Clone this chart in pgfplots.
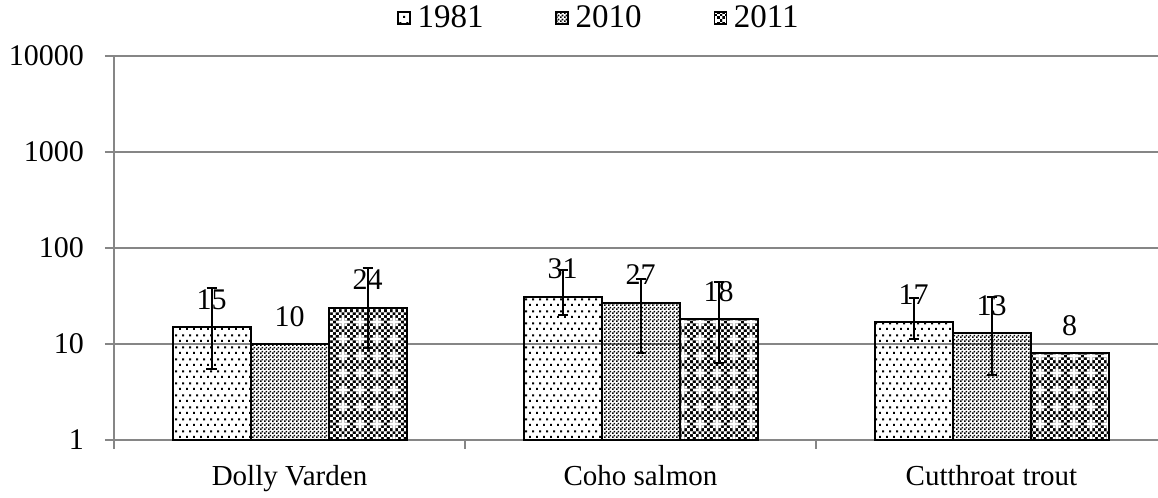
\documentclass[border=0pt]{standalone}
\usepackage{fontspec}
\setmainfont{Liberation Serif}
\usepackage{pgfplots}
\pgfplotsset{compat=1.18}
\usetikzlibrary{patterns.meta}

\tikzdeclarepattern{
  name=dotsA, type=uncolored,
  bounding box={(0,0) and (3.6bp,6bp)},
  tile size={(3.6bp,6bp)},
  code={\fill (0bp,0bp) rectangle (1.1bp,1.1bp); \fill (1.8bp,3bp) rectangle (2.9bp,4.1bp);}
}
\tikzdeclarepattern{
  name=fineCheck, type=uncolored,
  bounding box={(0,0) and (2bp,2bp)},
  tile size={(2bp,2bp)},
  code={\fill (0bp,0bp) rectangle (1bp,1bp); \fill (1bp,1bp) rectangle (2bp,2bp);}
}
\tikzdeclarepattern{
  name=checkPlus, type=colored,
  bounding box={(0,0) and (8.4bp,8.4bp)},
  tile size={(8.4bp,8.4bp)},
  code={
    \fill[black] (0bp,0bp) rectangle (8.4bp,8.4bp);
    \foreach \i in {0,...,5}{\foreach \j in {0,...,5}{%
      \pgfmathtruncatemacro\k{\i+\j}%
      \ifodd\k\relax\else\fill[white] (\i*1.4bp,\j*1.4bp) rectangle ++(1.4bp,1.4bp);\fi}}
    \fill[white] (1.4bp,2.8bp) rectangle (5.6bp,4.2bp);
    \fill[white] (2.8bp,1.4bp) rectangle (4.2bp,5.6bp);
  }
}

\definecolor{axgray}{HTML}{868686}

\pgfplotsset{
  mylegend/.style={legend image code/.code={\draw[##1, draw=black, line width=0.6bp] (0bp,-3bp) rectangle (6bp,3bp);}},
}

\begin{document}
\begin{tikzpicture}
\useasboundingbox (-57bp,-29bp) rectangle (522bp,220bp);
\begin{axis}[
  at={(0,0)}, anchor=south west,
  scale only axis, width=526.5bp, height=192bp,
  ymode=log, ymin=1, ymax=10000,
  ytick={1,10,100,1000,10000}, yticklabels={1,10,100,1000,10000},
  yminorticks=false,
  xmin=-0.5, xmax=2.5,
  xtick={-0.5,0.5,1.5,2.5}, xticklabels={},
  extra x ticks={0,1,2},
  extra x tick labels={Dolly Varden,Coho salmon,Cutthroat trout},
  extra x tick style={major tick length=0pt, xticklabel style={font=\fontsize{14.5bp}{17bp}\selectfont, yshift=-9bp}},
  axis x line*=bottom, axis y line*=left,
  axis line style={axgray, line width=1bp},
  tick style={axgray, line width=1bp},
  tick align=outside,
  major tick length=4.5bp,
  ymajorgrids, grid style={axgray, line width=1bp},
  ticklabel style={font=\fontsize{15bp}{18bp}\selectfont},
  yticklabel style={xshift=-7bp},
  /pgf/number format/assume math mode=true,
  ybar=0pt, bar width=39bp,
  point meta=rawy,
  nodes near coords,
  every node near coord/.append style={font=\fontsize{15bp}{18bp}\selectfont, black, yshift=5bp},
  legend style={at={(axis description cs:0.4615,1.099)}, anchor=center, draw=none,
    font=\fontsize{16.5bp}{18bp}\selectfont, legend columns=-1,
    /tikz/every even column/.append style={column sep=34bp},
    /tikz/every odd column/.append style={column sep=1.5bp}},
  error bars/error bar style={black, line width=1bp},
  error bars/error mark options={black, line width=1bp, mark size=2.5bp, rotate=90},
]
\addplot+[draw=black, line width=1bp, fill=white, pattern={dotsA}, pattern color=black, mylegend,
  error bars/.cd, y dir=both, y explicit]
  coordinates {(0,15) += (0,23) -= (0,9.5)
               (1,31) += (0,28) -= (0,11)
               (2,17) += (0,13.4) -= (0,5.8)};
\addplot+[draw=black, line width=1bp, fill=white, pattern={fineCheck}, pattern color=black, mylegend,
  error bars/.cd, y dir=both, y explicit]
  coordinates {(0,10) += (0,0) -= (0,0)
               (1,27) += (0,20.5) -= (0,19)
               (2,13) += (0,18) -= (0,8.2)};
\addplot+[draw=black, line width=1bp, pattern={checkPlus}, mylegend,
  error bars/.cd, y dir=both, y explicit]
  coordinates {(0,24) += (0,38) -= (0,15)
               (1,18) += (0,26) -= (0,11.6)
               (2,8) += (0,0) -= (0,0)};
\legend{1981,2010,2011}
\end{axis}
\end{tikzpicture}
\end{document}
